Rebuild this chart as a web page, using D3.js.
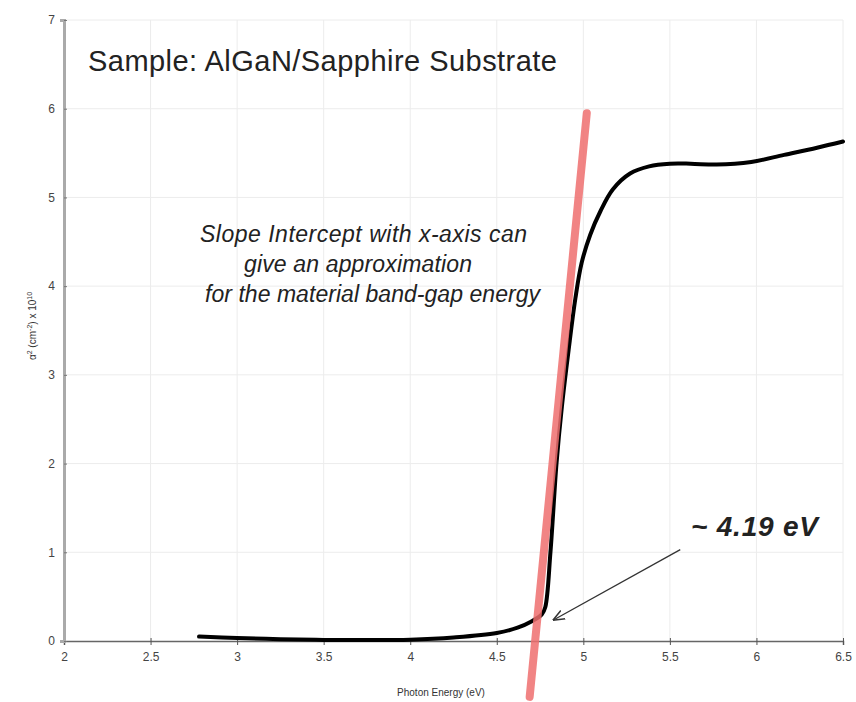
<!DOCTYPE html>
<html>
<head>
<meta charset="utf-8">
<script src="https://cdn.jsdelivr.net/npm/d3@7"></script>
<style>
  body { margin: 0; background: #fff; }
  svg { font-family: "Liberation Sans", Arial, sans-serif; }
</style>
</head>
<body>
<svg id="chart" width="856" height="702"></svg>
<script>
// absorption curve
const energy = [2.78, 3.0, 3.25, 3.5, 3.75, 4.0, 4.25, 4.5, 4.62, 4.7, 4.76, 4.78,
  4.81, 4.845, 4.876, 4.915, 4.954, 4.99, 5.04, 5.1, 5.17, 5.27, 5.38, 5.5, 5.62,
  5.77, 5.97, 6.16, 6.35, 6.5];
const alphaSq = [0.05, 0.035, 0.02, 0.012, 0.01, 0.015, 0.04, 0.09, 0.15, 0.22, 0.3, 0.38,
  1.0, 2.0, 2.64, 3.28, 3.86, 4.26, 4.58, 4.85, 5.09, 5.27, 5.35, 5.38, 5.38,
  5.37, 5.4, 5.48, 5.56, 5.63];

// slope line and arrow endpoints (data units)
const slopeX = [4.69, 5.02];
const slopeY = [-0.63, 5.95];
const arrowX = [5.56, 4.83];
const arrowY = [1.03, 0.24];

const xTicks = [2, 2.5, 3, 3.5, 4, 4.5, 5, 5.5, 6, 6.5];
const yTicks = [0, 1, 2, 3, 4, 5, 6, 7];

const svg = d3.select('#chart');
const x = d3.scaleLinear().domain([2, 6.5]).range([64, 843]);
const y = d3.scaleLinear().domain([0, 7]).range([641, 20]);

// grid
svg.append('g')
  .selectAll('line')
  .data(xTicks.slice(1))
  .enter()
  .append('line')
  .attr('x1', (d) => x(d)).attr('x2', (d) => x(d))
  .attr('y1', y(7)).attr('y2', y(0))
  .attr('stroke', '#ececec').attr('stroke-width', 1);
svg.append('g')
  .selectAll('line')
  .data(yTicks.slice(1))
  .enter()
  .append('line')
  .attr('x1', x(2)).attr('x2', x(6.5))
  .attr('y1', (d) => y(d)).attr('y2', (d) => y(d))
  .attr('stroke', '#ececec').attr('stroke-width', 1);

// axes
const xAxis = svg.append('g')
  .attr('transform', `translate(0,${y(0)})`)
  .call(d3.axisBottom(x).tickValues(xTicks).tickSize(4).tickFormat(d3.format('')));
xAxis.select('.domain').attr('stroke', '#666').attr('stroke-width', 1.5);
xAxis.selectAll('.tick line').attr('stroke', '#555').attr('y1', -3);
xAxis.selectAll('.tick text').attr('fill', '#444').style('font-size', '12px').attr('dy', '1.1em');

const yAxis = svg.append('g')
  .attr('transform', `translate(${x(2)},0)`)
  .call(d3.axisLeft(y).tickValues(yTicks).tickSize(4).tickFormat(d3.format('d')));
yAxis.select('.domain').attr('stroke', '#aaa').attr('stroke-width', 3);
yAxis.selectAll('.tick line').attr('stroke', '#777').attr('x2', 3);
yAxis.selectAll('.tick text').attr('fill', '#444').style('font-size', '12px').attr('x', -9);

// axis titles
svg.append('text')
  .attr('x', 441).attr('y', 696)
  .attr('text-anchor', 'middle')
  .attr('fill', '#333')
  .style('font-size', '10px')
  .text('Photon Energy (eV)');

const yLabel = svg.append('text')
  .attr('transform', 'translate(36,326) rotate(-90)')
  .attr('text-anchor', 'middle')
  .attr('fill', '#333')
  .style('font-size', '10px');
yLabel.append('tspan').text('α');
yLabel.append('tspan').attr('dy', -4).style('font-size', '7px').text('2');
yLabel.append('tspan').attr('dy', 4).text(' (cm');
yLabel.append('tspan').attr('dy', -4).style('font-size', '7px').text('-2');
yLabel.append('tspan').attr('dy', 4).text(') x 10');
yLabel.append('tspan').attr('dy', -4).style('font-size', '7px').text('10');

// absorption curve
const points = energy.map((e, i) => [e, alphaSq[i]]);
svg.append('path')
  .datum(points)
  .attr('d', d3.line().x((d) => x(d[0])).y((d) => y(d[1])).curve(d3.curveCatmullRom))
  .attr('fill', 'none')
  .attr('stroke', '#000')
  .attr('stroke-width', 4)
  .attr('stroke-linejoin', 'round')
  .attr('stroke-linecap', 'round');

// slope intercept line
svg.append('line')
  .attr('x1', x(slopeX[0])).attr('y1', y(slopeY[0]))
  .attr('x2', x(slopeX[1])).attr('y2', y(slopeY[1]))
  .attr('stroke', '#ef6f6f')
  .attr('stroke-opacity', 0.85)
  .attr('stroke-width', 8)
  .attr('stroke-linecap', 'round');

// arrow
svg.append('defs').append('marker')
  .attr('id', 'head')
  .attr('viewBox', '0 0 10 10')
  .attr('refX', 9).attr('refY', 5)
  .attr('markerWidth', 9).attr('markerHeight', 9)
  .attr('orient', 'auto')
  .append('path')
  .attr('d', 'M0,1 L10,5 L0,9')
  .attr('fill', 'none')
  .attr('stroke', '#333')
  .attr('stroke-width', 1.3);
svg.append('line')
  .attr('x1', x(arrowX[0])).attr('y1', y(arrowY[0]))
  .attr('x2', x(arrowX[1])).attr('y2', y(arrowY[1]))
  .attr('stroke', '#333')
  .attr('stroke-width', 1.3)
  .attr('marker-end', 'url(#head)');

// texts
svg.append('text')
  .attr('x', 88).attr('y', 71)
  .attr('fill', '#222')
  .attr('textLength', 469)
  .attr('lengthAdjust', 'spacing')
  .style('font-size', '29px')
  .text('Sample: AlGaN/Sapphire Substrate');

svg.append('text')
  .attr('x', 691).attr('y', 536)
  .attr('fill', '#222')
  .attr('textLength', 127)
  .attr('lengthAdjust', 'spacing')
  .style('font-size', '28px')
  .style('font-style', 'italic')
  .style('font-weight', '600')
  .text('~ 4.19 eV');

const note = [
  ['Slope Intercept with x-axis can', 200, 242, 327],
  ['give an approximation', 244, 272, 228],
  ['for the material band-gap energy', 205, 302, 335],
];
svg.append('g')
  .selectAll('text')
  .data(note)
  .enter()
  .append('text')
  .attr('x', (d) => d[1]).attr('y', (d) => d[2])
  .attr('textLength', (d) => d[3])
  .attr('lengthAdjust', 'spacing')
  .attr('fill', '#222')
  .style('font-size', '23px')
  .style('font-style', 'italic')
  .text((d) => d[0]);
</script>
</body>
</html>
